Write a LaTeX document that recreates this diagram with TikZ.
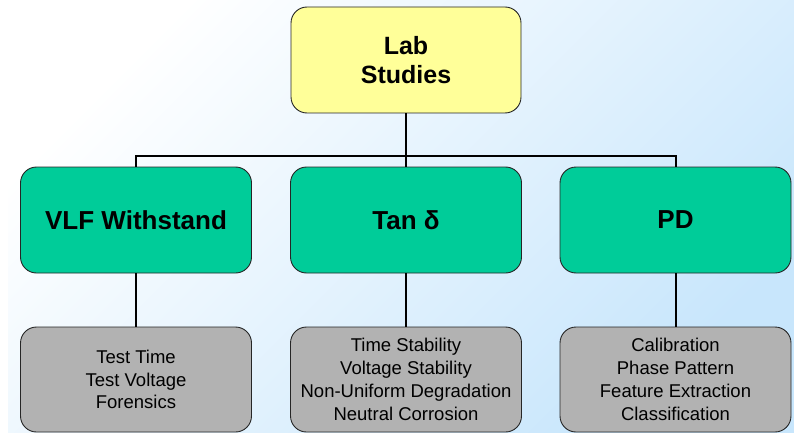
\documentclass[tikz,border=0pt]{standalone}
\usepackage{fontspec}
\setmainfont{Liberation Sans}
\begin{document}
\begin{tikzpicture}[x=1pt,y=-1pt,
  box/.style={draw=black!85, line width=0.9pt, rounded corners=16pt, align=center, inner sep=0pt},
  topbox/.style={box, fill=topyellow, minimum width=230pt, minimum height=106pt, font=\fontsize{25}{29}\selectfont\bfseries},
  midbox/.style={box, fill=midgreen, minimum width=231pt, minimum height=106pt, font=\fontsize{26}{30}\selectfont\bfseries},
  lowbox/.style={box, fill=lowgray, minimum width=231pt, minimum height=105pt, font=\fontsize{18.5}{22.8}\selectfont},
  conn/.style={line width=2pt, black}]
\definecolor{topyellow}{RGB}{255,255,153}
\definecolor{midgreen}{RGB}{0,204,153}
\definecolor{lowgray}{RGB}{178,178,178}
\definecolor{bgblue}{RGB}{200,230,252}
\useasboundingbox (0,0) rectangle (794,433);
\fill[white] (0,0) rectangle (794,433);
\shade[top color=white, bottom color=bgblue, shading angle=45] (8,0) rectangle (794,432);
\node[topbox] (lab) at (406,60) {Lab\\Studies};
\node[midbox] (vlf) at (136,220) {VLF Withstand};
\node[midbox] (tan) at (406,220) {Tan δ};
\node[midbox] (pd) at (675.5,220) {PD};
\node[lowbox] (l1) at (136,379.5) {Test Time\\Test Voltage\\Forensics};
\node[lowbox] (l2) at (406,379.5) {Time Stability\\Voltage Stability\\Non-Uniform Degradation\\Neutral Corrosion};
\node[lowbox] (l3) at (675.5,379.5) {Calibration\\Phase Pattern\\Feature Extraction\\Classification};
\coordinate (bus) at (406,156);
\draw[conn] (lab.south) -- (tan.north);
\draw[conn] (vlf.north) |- (bus) -| (pd.north);
\draw[conn] (vlf.south) -- (l1.north);
\draw[conn] (tan.south) -- (l2.north);
\draw[conn] (pd.south) -- (l3.north);
\end{tikzpicture}
\end{document}
